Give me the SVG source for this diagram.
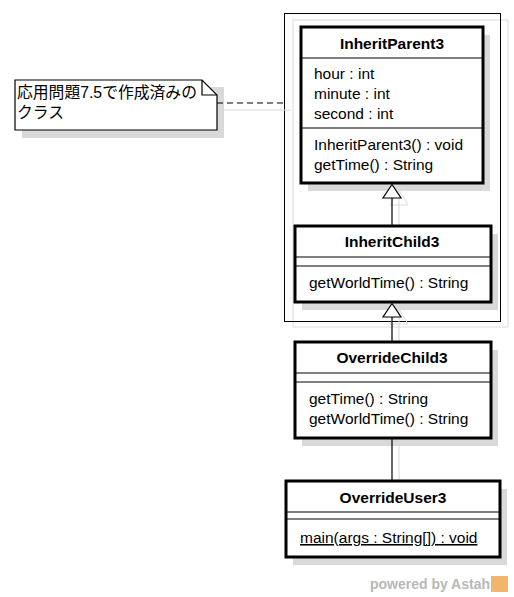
<svg xmlns="http://www.w3.org/2000/svg" width="514" height="597" viewBox="0 0 514 597">
<style>
text{font-family:"Liberation Sans",Arial,"Noto Sans CJK JP",sans-serif;font-size:15.5px;fill:#000}
.t{font-weight:bold;text-anchor:middle;font-size:15.5px}
.box{fill:#fff;stroke:#000;stroke-width:3}
.sh{fill:#d9d9d9}
.div{stroke:#000;stroke-width:1.2}
.ln{stroke:#000;stroke-width:1.2;fill:none}
.lsh{stroke:#d8d8d8;stroke-width:1;fill:none}
</style>
<rect width="514" height="597" fill="#fff"/>
<g id="frame">
<rect x="293" y="20" width="215" height="307" fill="none" stroke="#dcdcdc"/>
<rect x="284.5" y="13.5" width="216" height="308" fill="none" stroke="#000" stroke-width="1"/>
</g>
<g id="connector-shadows">
<line class="lsh" x1="399" y1="190" x2="399" y2="233"/>
<line class="lsh" x1="399" y1="309" x2="399" y2="348"/>
<line class="lsh" x1="399" y1="445" x2="399" y2="488"/>
<line class="lsh" x1="220" y1="110" x2="291" y2="110"/>
<polygon points="399,190 408,205 390,205" fill="none" stroke="#dcdcdc"/>
<polygon points="399,309 408,324 390,324" fill="none" stroke="#dcdcdc"/>
</g>
<g id="note">
<polygon class="sh" points="22,87 224,87 224,138 22,138"/>
<polygon points="15,80 202,80 217,95 217,130 15,130" fill="#fff" stroke="#000" stroke-width="1.2"/>
<polyline points="202,80 202,95 217,95" fill="none" stroke="#000" stroke-width="1.2"/>
<text x="17" y="98" style="font-size:15.8px">応用問題7.5で作成済みの</text>
<text x="17" y="118" style="font-size:15.8px">クラス</text>
</g>
<g id="InheritParent3">
<rect class="sh" x="308" y="35" width="182" height="156"/>
<rect class="box" x="301" y="27" width="182" height="156"/>
<text class="t" x="392" y="49">InheritParent3</text>
<line class="div" x1="301" y1="58" x2="483" y2="58"/>
<text x="314" y="79">hour : int</text>
<text x="314" y="99">minute : int</text>
<text x="314" y="119">second : int</text>
<line class="div" x1="301" y1="128" x2="483" y2="128"/>
<text x="314" y="150">InheritParent3() : void</text>
<text x="314" y="170">getTime() : String</text>
</g>
<g id="InheritChild3">
<rect class="sh" x="302" y="234" width="196" height="76"/>
<rect class="box" x="295" y="226" width="196" height="76"/>
<text class="t" x="392" y="247">InheritChild3</text>
<line class="div" x1="295" y1="257" x2="491" y2="257"/>
<line class="div" x1="295" y1="266" x2="491" y2="266"/>
<text x="309" y="288">getWorldTime() : String</text>
</g>
<g id="OverrideChild3">
<rect class="sh" x="302" y="350" width="196" height="96"/>
<rect class="box" x="295" y="342" width="196" height="96"/>
<text class="t" x="392" y="363">OverrideChild3</text>
<line class="div" x1="295" y1="373" x2="491" y2="373"/>
<line class="div" x1="295" y1="382" x2="491" y2="382"/>
<text x="309" y="404">getTime() : String</text>
<text x="309" y="424">getWorldTime() : String</text>
</g>
<g id="OverrideUser3">
<rect class="sh" x="293" y="489" width="214" height="76"/>
<rect class="box" x="286" y="481" width="214" height="76"/>
<text class="t" x="393" y="503">OverrideUser3</text>
<line class="div" x1="286" y1="512" x2="500" y2="512"/>
<line class="div" x1="286" y1="519" x2="500" y2="519"/>
<text x="300" y="543" text-decoration="underline">main(args : String[]) : void</text>
</g>
<g id="connectors">
<line class="ln" x1="392" y1="198" x2="392" y2="225"/>
<polygon points="392,184.5 401,198 383,198" fill="#fff" stroke="#000" stroke-width="1.2"/>
<line class="ln" x1="392" y1="317" x2="392" y2="341"/>
<polygon points="392,303.5 401,317 383,317" fill="#fff" stroke="#000" stroke-width="1.2"/>
<line class="ln" x1="392" y1="439" x2="392" y2="480"/>
<line class="ln" x1="217" y1="103" x2="284" y2="103" stroke-dasharray="6,4"/>
</g>
<g id="watermark">
<text x="490" y="589" text-anchor="end" style="font-weight:bold;fill:#b8b8b8;font-size:14px">powered by Astah</text>
<rect x="491" y="576" width="17" height="16" fill="#f2b56b"/>
</g>
</svg>
